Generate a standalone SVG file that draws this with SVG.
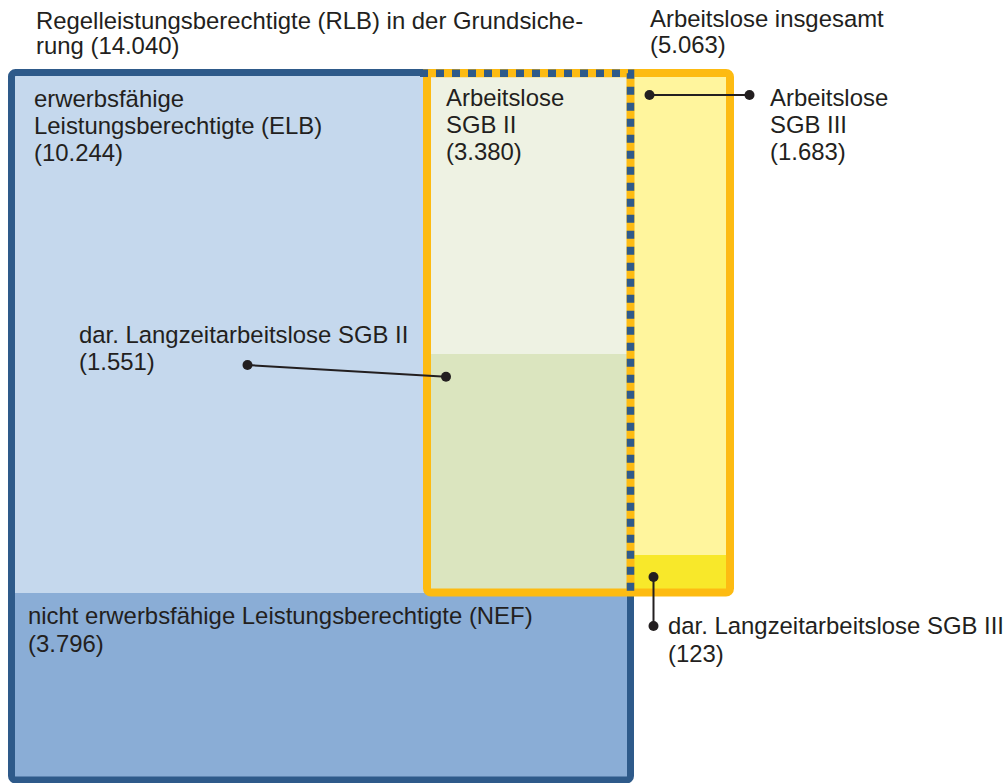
<svg xmlns="http://www.w3.org/2000/svg" width="1008" height="783" viewBox="0 0 1008 783">
<style>
text{font-family:"Liberation Sans",Arial,sans-serif;font-size:23.9px;fill:#231f20}
.con{stroke:#231f20;stroke-width:2;fill:none}
.dot{fill:#231f20}
</style>
<rect width="1008" height="783" fill="#ffffff"/>
<g id="elb"><rect x="11" y="73" width="620" height="520" fill="#c5d8ed"/></g>
<g id="nef"><rect x="11" y="593" width="620" height="187" fill="#8aadd6"/>
<text x="28" y="624">nicht erwerbsfähige Leistungsberechtigte (NEF)</text>
<text x="28" y="652">(3.796)</text></g>
<g id="al-sgb2"><rect x="427" y="73" width="203" height="281" fill="#eef2e3"/>
<text x="446" y="106">Arbeitslose</text><text x="446" y="133">SGB II</text><text x="446" y="160">(3.380)</text></g>
<g id="lzal-sgb2"><rect x="427" y="354" width="203" height="238" fill="#dbe5bf"/></g>
<g id="al-sgb3"><rect x="630" y="73" width="100" height="482" fill="#fff59d"/></g>
<g id="lzal-sgb3"><rect x="630" y="555" width="100" height="37" fill="#f8e82a"/></g>
<g id="rlb"><rect x="11.5" y="72.5" width="619" height="707.5" rx="4" fill="none" stroke="#2e5a8a" stroke-width="7"/>
<text x="36" y="29">Regelleistungsberechtigte (RLB) in der Grundsiche-</text>
<text x="36" y="54">rung (14.040)</text>
<text x="34" y="107">erwerbsfähige</text><text x="34" y="134">Leistungsberechtigte (ELB)</text><text x="34" y="161">(10.244)</text></g>
<g id="al-gesamt"><rect x="427" y="73" width="303" height="519.5" rx="4" fill="none" stroke="#fdbb12" stroke-width="8"/>
<path d="M423 73.3H630.5V592" fill="none" stroke="#fdbb12" stroke-width="8"/>
<path d="M420 73.3H630.5V596" fill="none" stroke="#2e5a8a" stroke-width="7.5" stroke-dasharray="8 8"/>
<text x="650" y="27">Arbeitslose insgesamt</text><text x="650" y="53">(5.063)</text></g>
<g id="label-sgb3"><text x="770" y="106">Arbeitslose</text><text x="770" y="133">SGB III</text><text x="770" y="160">(1.683)</text></g>
<g id="label-lz2"><text x="79" y="343">dar. Langzeitarbeitslose SGB II</text><text x="79" y="370">(1.551)</text></g>
<g id="label-lz3"><text x="668" y="634">dar. Langzeitarbeitslose SGB III</text><text x="668" y="662">(123)</text></g>
<g id="connectors">
<line class="con" x1="649.5" y1="95" x2="749.5" y2="95"/><circle class="dot" cx="649.5" cy="95" r="5"/><circle class="dot" cx="749.5" cy="95" r="5"/>
<line class="con" x1="247.5" y1="365" x2="446" y2="376.7"/><circle class="dot" cx="247.5" cy="365" r="5"/><circle class="dot" cx="446" cy="376.7" r="5"/>
<line class="con" x1="653.5" y1="577" x2="653.5" y2="626"/><circle class="dot" cx="653.5" cy="577" r="5"/><circle class="dot" cx="653.5" cy="626" r="5"/>
</g>
</svg>
